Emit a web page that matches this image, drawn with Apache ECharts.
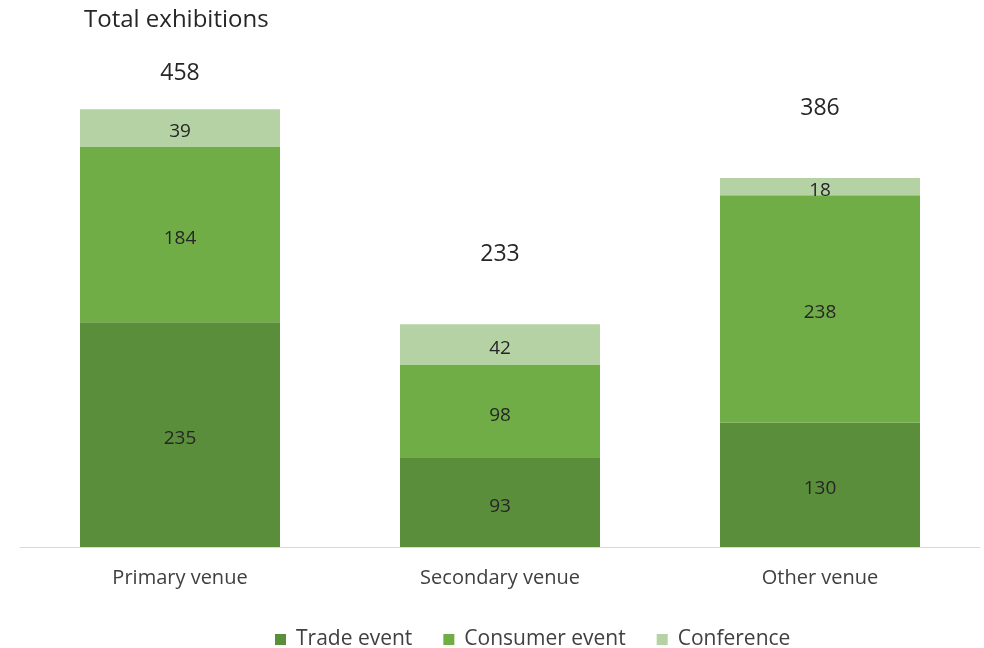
<!DOCTYPE html>
<html>
<head>
<meta charset="utf-8">
<style>
  html, body { margin: 0; padding: 0; background: #ffffff; }
  #chart { width: 984px; height: 648px; }
</style>
<script src="https://cdn.jsdelivr.net/npm/echarts@6/dist/echarts.min.js"></script>
</head>
<body>
<div id="chart"></div>
<script>
// Exhibitions by venue type, split by event type
const categories = ['Primary venue', 'Secondary venue', 'Other venue'];
const tradeEvent = [235, 93, 130];
const consumerEvent = [184, 98, 238];
const conference = [39, 42, 18];
const totals = categories.map((_, i) => tradeEvent[i] + consumerEvent[i] + conference[i]);

const FONT = 'Open Sans';
const chart = echarts.init(document.getElementById('chart'));

const segLabel = {
  show: true,
  position: 'inside',
  offset: [0, 4],
  color: '#262626',
  fontFamily: FONT,
  fontSize: 19
};

// distance of each total label above its stack
const totalDistance = [24, 58, 58];

chart.setOption({
  animation: false,
  textStyle: { fontFamily: FONT },
  title: {
    text: 'Total exhibitions',
    left: 79,
    top: 3,
    textStyle: { fontFamily: FONT, fontSize: 24, fontWeight: 'normal', color: '#262626' }
  },
  legend: {
    top: 624,
    left: 270,
    itemWidth: 11,
    itemHeight: 11,
    itemGap: 31,
    icon: 'rect',
    textStyle: { fontFamily: FONT, fontSize: 21, color: '#404040', padding: [0, 0, 0, 5] },
    data: ['Trade event', 'Consumer event', 'Conference']
  },
  grid: { left: 20, right: 4, top: 69, bottom: 101 },
  xAxis: {
    type: 'category',
    data: categories,
    axisLine: { lineStyle: { color: '#d9d9d9', width: 1 } },
    axisTick: { show: false },
    axisLabel: { fontFamily: FONT, fontSize: 20, color: '#404040', margin: 21 }
  },
  yAxis: {
    type: 'value',
    min: 0,
    max: 500,
    show: false,
    splitLine: { show: false }
  },
  series: [
    {
      name: 'Trade event', type: 'bar', stack: 'venue', barWidth: '62.5%',
      itemStyle: { color: '#5b8e3a' }, label: segLabel, data: tradeEvent
    },
    {
      name: 'Consumer event', type: 'bar', stack: 'venue',
      itemStyle: { color: '#70ad47' }, label: segLabel, data: consumerEvent
    },
    {
      name: 'Conference', type: 'bar', stack: 'venue',
      itemStyle: { color: '#b5d2a5' }, label: segLabel, data: conference
    },
    {
      name: 'Total', type: 'line', symbol: 'circle', symbolSize: 1, silent: true,
      itemStyle: { color: 'rgba(0,0,0,0)' },
      lineStyle: { opacity: 0 },
      data: totals.map((v, i) => ({
        value: v,
        label: {
          show: true, position: 'top', distance: totalDistance[i],
          fontFamily: FONT, fontSize: 23, color: '#262626'
        }
      }))
    }
  ]
});
</script>
</body>
</html>
